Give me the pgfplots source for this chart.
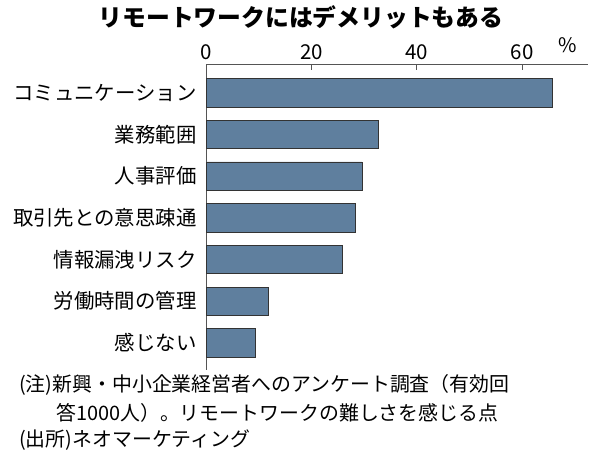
\documentclass[border=0pt]{standalone}
\usepackage{fontspec}
\setmainfont{Noto Sans CJK JP}
\usepackage{pgfplots}
\pgfplotsset{compat=1.18}
\definecolor{barblue}{HTML}{5F7F9E}
\definecolor{edgegray}{HTML}{333333}
\definecolor{axisgray}{HTML}{555555}
\begin{document}
\begin{tikzpicture}[x=1pt,y=1pt]
\begin{axis}[
  at={(206pt,-64.7pt)}, anchor=north west,
  scale only axis, width=382pt, height=305.3pt,
  xmin=0, xmax=72.5,
  ymin=-0.67, ymax=6.65, y dir=reverse,
  axis x line*=top, axis y line*=left,
  axis line style={axisgray, line width=0.9pt},
  xtick={0,20,40,60},
  tick align=inside,
  major tick length=5pt,
  x tick style={axisgray, line width=0.8pt},
  xticklabel style={font=\fontsize{20.5}{23}\selectfont, yshift=1pt},
  /pgf/number format/assume math mode=true,
  ytick={0,1,2,3,4,5,6},
  yticklabels={コミュニケーション,業務範囲,人事評価,取引先との意思疎通,情報漏洩リスク,労働時間の管理,感じない},
  y tick style={draw=none},
  yticklabel style={font=\fontsize{20.4}{23}\selectfont, xshift=-6pt},
  clip=false,
]
\addplot[xbar, bar width=0.68, fill=barblue, draw=edgegray, line width=0.6pt, bar shift=0pt]
  coordinates {(65.7,0) (32.7,1) (29.6,2) (28.4,3) (25.8,4) (11.8,5) (9.4,6)};
\end{axis}
\node[font=\bfseries\fontsize{23.8}{26}\selectfont] at (301pt,-17pt) {リモートワークにはデメリットもある};
\node[font=\fontsize{20}{22}\selectfont] at (568pt,-45pt) {\%};
\node[anchor=west, font=\fontsize{19.9}{22}\selectfont, inner sep=0pt] at (19pt,-385pt) {(注)新興・中小企業経営者へのアンケート調査（有効回};
\node[anchor=west, font=\fontsize{19.9}{22}\selectfont, inner sep=0pt] at (56pt,-413pt) {答1000人）。リモートワークの難しさを感じる点};
\node[anchor=west, font=\fontsize{19.9}{22}\selectfont, inner sep=0pt] at (19pt,-440pt) {(出所)ネオマーケティング};
\pgfresetboundingbox
\path (0pt,0pt) rectangle (600pt,-459pt);
\end{tikzpicture}
\end{document}
